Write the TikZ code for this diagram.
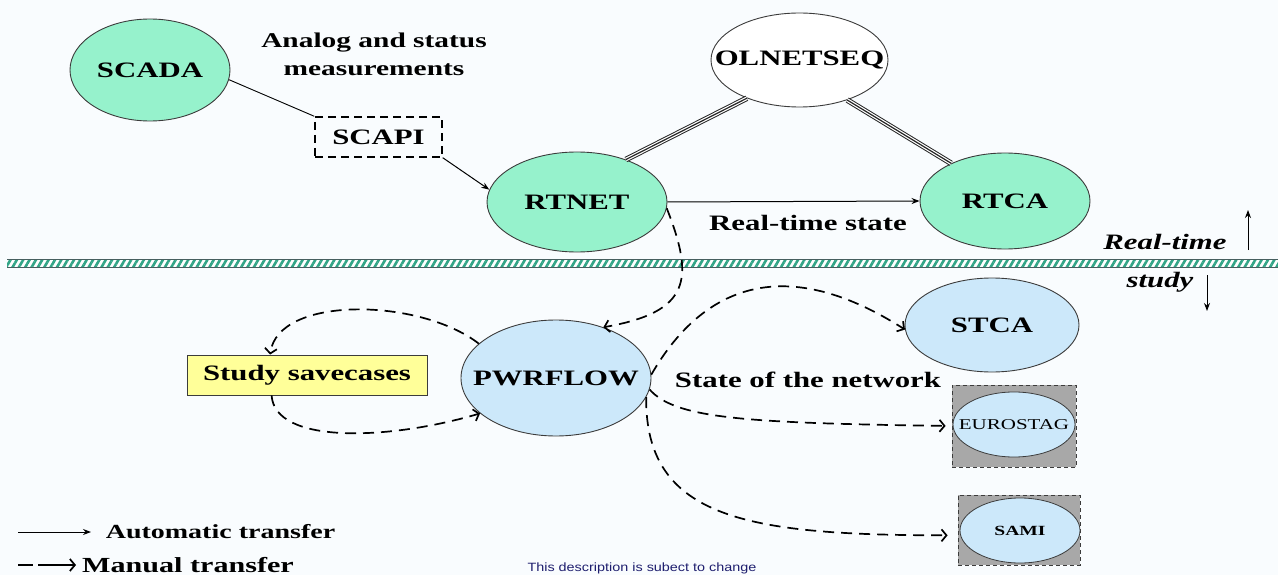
\documentclass[tikz,border=0pt]{standalone}
\usepackage{fontspec}
\setmainfont{Liberation Serif}[FakeStretch=1.4]
\newfontfamily\notefont{Liberation Sans}[FakeStretch=1.2]
\usetikzlibrary{shapes.geometric,arrows.meta,patterns.meta}
\definecolor{mint}{RGB}{150,242,204}
\definecolor{lblue}{RGB}{204,232,250}
\definecolor{syellow}{RGB}{255,255,153}
\definecolor{boxgray}{RGB}{168,168,168}
\definecolor{bandteal}{RGB}{50,165,135}
\definecolor{bandedge}{RGB}{70,95,95}
\definecolor{bgc}{RGB}{249,252,254}
\definecolor{edgec}{RGB}{60,60,60}
\definecolor{notec}{RGB}{30,30,110}
\newcommand\ctxt[1]{\makebox[0pt][c]{#1}}
\tikzset{
  ell/.style={ellipse, draw=edgec, line width=0.9pt, inner sep=0pt, font=\bfseries\fontsize{22}{26}\selectfont},
  lbl/.style={inner sep=0pt, font=\bfseries\fontsize{22}{26}\selectfont},
  legtext/.style={inner sep=0pt, font=\bfseries\fontsize{20}{24}\selectfont},
  ital/.style={inner sep=0pt, font=\bfseries\itshape\fontsize{22}{26}\selectfont},
  autoarrow/.style={line width=1pt, -{Stealth[length=8pt,width=6pt]}},
  manual/.style={line width=1.7pt, dash pattern=on 11pt off 7pt, -{Straight Barb[length=5pt,width=12pt]}},
  dbl/.style={draw=black!85, line width=5.6pt, postaction={draw=white, line width=3.6pt}, postaction={draw=black!85, line width=1.2pt}},
  toolbox/.style={draw=edgec, line width=0.8pt, dash pattern=on 4pt off 3pt, fill=boxgray, inner sep=0pt},
}
\begin{document}
\begin{tikzpicture}[x=1pt,y=-1pt]
\useasboundingbox (0,0) rectangle (1278,575);
\fill[bgc] (0,0) rectangle (1278,575);
% band
\fill[white] (7,259) rectangle (1278,267);
\fill[pattern={Lines[angle=60,distance=5.5pt,line width=2.6pt]}, pattern color=bandteal] (7,259) rectangle (1278,267);
\draw[bandedge, line width=1pt] (7,259) -- (1278,259);
\draw[bandedge, line width=1pt] (7,267) -- (1278,267);
% nodes
\node[ell, fill=mint, minimum width=160pt, minimum height=102pt] (scada) at (150,70) {\ctxt{SCADA}};
\node[lbl, align=center, font=\bfseries\fontsize{21}{28}\selectfont] (analog) at (374,54) {Analog and status\\measurements};
\node[lbl, draw=black, line width=1.4pt, dash pattern=on 8pt off 5pt, minimum width=127pt, minimum height=40pt] (scapi) at (378.5,137) {SCAPI};
\node[ell, fill=white, minimum width=177pt, minimum height=94pt] (olnet) at (799.5,60) {\ctxt{OLNETSEQ}};
\node[ell, fill=mint, minimum width=180pt, minimum height=100pt] (rtnet) at (577,202) {\ctxt{RTNET}};
\node[ell, fill=mint, minimum width=170pt, minimum height=96pt] (rtca) at (1005,201) {\ctxt{RTCA}};
\node[lbl] (rtstate) at (808,223) {Real-time state};
\node[ital] (rtlabel) at (1165,242) {Real-time};
\node[ital] (studylabel) at (1160,282) {study};
\node[ell, fill=lblue, minimum width=174pt, minimum height=94pt] (stca) at (992,325) {\ctxt{STCA}};
\node[ell, fill=lblue, minimum width=190pt, minimum height=116pt] (pwr) at (556,378) {\ctxt{PWRFLOW}};
\node[lbl, draw=edgec, line width=0.9pt, fill=syellow, minimum width=240pt, minimum height=40pt] (study) at (307,375) {Study savecases};
\node[lbl] (state) at (808,380) {State of the network};
\node[toolbox, minimum width=124pt, minimum height=82pt] (eurobox) at (1014,426) {};
\node[ellipse, draw=edgec, line width=0.8pt, fill=lblue, inner sep=0pt, minimum width=122pt, minimum height=65pt, font=\fontsize{15}{18}\selectfont] (euro) at (1014,424.5) {\ctxt{EUROSTAG}};
\node[toolbox, minimum width=122pt, minimum height=70pt] (samibox) at (1019,530) {};
\node[ellipse, draw=edgec, line width=0.8pt, fill=lblue, inner sep=0pt, minimum width=120pt, minimum height=65pt, font=\bfseries\fontsize{14}{16}\selectfont] (sami) at (1020,530.5) {\ctxt{SAMI}};
% connectors
\draw[line width=0.9pt] (scada.-7) -- (scapi.north west);
\draw[autoarrow] (scapi.south east) -- (rtnet.172);
\draw[dbl] (rtnet.41) -- (olnet.216);
\draw[dbl] (olnet.-40) -- (rtca.145);
\draw[autoarrow] (rtnet.0) -- (rtca.180);
\draw[manual] (rtnet.-4) .. controls (695,280) and (690,312) .. (pwr.47);
\draw[manual] (pwr.156) .. controls (420,298) and (278,295) .. (study.151);
\draw[manual] (study.-150) .. controls (275,445) and (390,440) .. (pwr.205);
\draw[manual] (pwr.2) .. controls (700,290) and (780,250) .. (stca.183);
\draw[manual, shorten >=6pt] (pwr.-7) .. controls (675,418) and (740,423) .. (eurobox.west);
\draw[manual, shorten >=10pt] (pwr.-12) .. controls (645,520) and (750,535) .. (samibox.-175);
% real-time / study arrows
\coordinate (up1) at (1248,250); \coordinate (up2) at (1248,210);
\coordinate (dn1) at (1207,275); \coordinate (dn2) at (1207,311);
\draw[autoarrow] (up1) -- (up2);
\draw[autoarrow] (dn1) -- (dn2);
% legend
\coordinate (la1) at (18,532); \coordinate (la2) at (91,532);
\coordinate (lm1) at (18,565); \coordinate (lm2) at (76,565);
\draw[autoarrow] (la1) -- (la2);
\draw[manual, dash pattern=on 15pt off 5pt on 40pt off 5pt] (lm1) -- (lm2);
\node[legtext] (legauto) at (220.5,532) {Automatic transfer};
\node[legtext, font=\bfseries\fontsize{21.5}{25}\selectfont] (legman) at (188,565) {Manual transfer};
\node[inner sep=0pt, text=notec, font=\notefont\fontsize{12}{14}\selectfont] (note) at (642,568) {This description is subect to change};
\end{tikzpicture}
\end{document}
